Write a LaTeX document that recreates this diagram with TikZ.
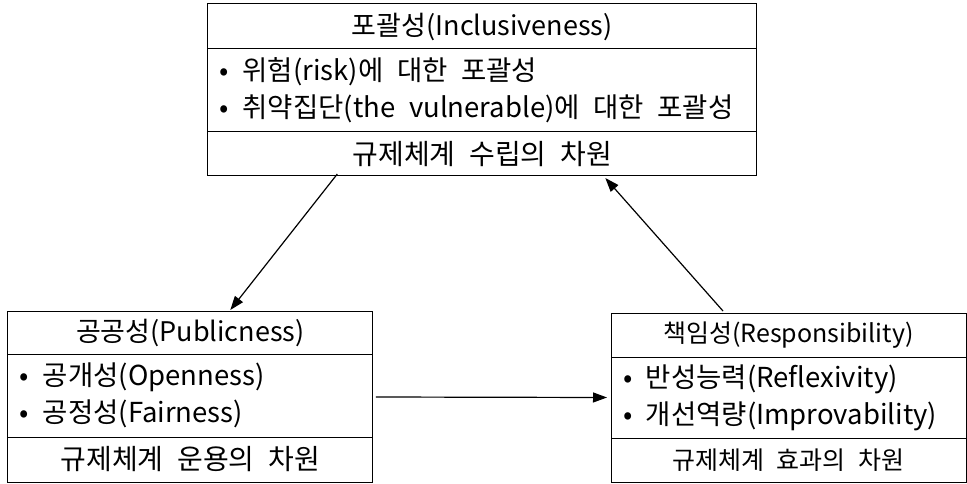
\documentclass[tikz,border=0pt]{standalone}
\usepackage{fontspec}
\setmainfont[WordSpace=2.2]{Noto Sans CJK KR}
\usetikzlibrary{arrows.meta,positioning}
\tikzstyle{arrow} = [line width=1.2pt,-{Triangle[length=14pt,width=10pt]}]
\tikzstyle{cell} = [rectangle, draw, line width=1pt, inner sep=0pt, outer sep=0pt, align=center]
\tikzstyle{listcell} = [cell, inner xsep=12pt, align=flush left, font=\listfont]
\newcommand{\boxfont}{\fontsize{27}{38}\selectfont}
\newcommand{\footfont}{\fontsize{28}{38}\selectfont}
\newcommand{\listfont}{\fontsize{27.5}{37}\selectfont}
\newcommand{\smallboxfont}{\fontsize{25}{34}\selectfont}

\begin{document}
\begin{tikzpicture}[x=1pt,y=-1pt]
\useasboundingbox (0,0) rectangle (967,484);

% Inclusiveness (top)
\node[cell, minimum width=549pt, minimum height=45pt] (inclHead) at (482.3,26.5) {\boxfont 포괄성(Inclusiveness)};
\node[listcell, below=0pt of inclHead, text width=525pt, minimum height=83pt] (inclBody)
  {• 위험(risk)에 대한 포괄성\\ • 취약집단(the vulnerable)에 대한 포괄성};
\node[cell, below=0pt of inclBody, minimum width=549pt, minimum height=44pt] (inclFoot) {\footfont 규제체계 수립의 차원};

% Publicness (left)
\node[cell, minimum width=364.7pt, minimum height=43pt] (publHead) at (190.3,332.5) {\boxfont 공공성(Publicness)};
\node[listcell, below=0pt of publHead, text width=340.7pt, minimum height=83pt] (publBody)
  {• 공개성(Openness)\\ • 공정성(Fairness)};
\node[cell, below=0pt of publBody, minimum width=364.7pt, minimum height=45pt] (publFoot) {\footfont 규제체계 운용의 차원};

% Responsibility (right)
\node[cell, minimum width=355pt, minimum height=44pt] (respHead) at (788.5,335) {\smallboxfont 책임성(Responsibility)};
\node[listcell, below=0pt of respHead, text width=331pt, minimum height=81pt] (respBody)
  {• 반성능력(Reflexivity)\\ • 개선역량(Improvability)};
\node[cell, below=0pt of respBody, minimum width=355pt, minimum height=44pt] (respFoot) {\smallboxfont 규제체계 효과의 차원};

% Arrows
\draw[arrow] ([xshift=-145pt,yshift=2pt]inclFoot.south) -- ([xshift=40pt,yshift=1pt]publHead.north);
\draw[arrow] ([xshift=3.3pt,yshift=-1.5pt]publBody.east) -- ([xshift=-4pt]respBody.west);
\draw[arrow] ([xshift=-65.5pt,yshift=2pt]respHead.north) -- ([xshift=123pt,yshift=-2pt]inclFoot.south);
\end{tikzpicture}
\end{document}
